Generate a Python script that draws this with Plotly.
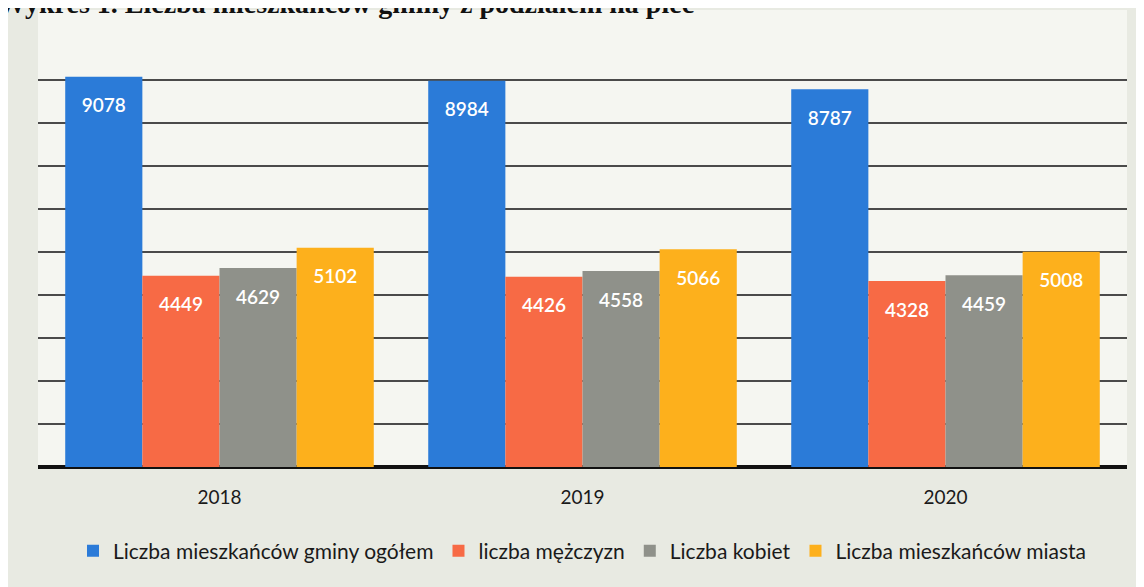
import plotly.graph_objects as go

years = ["2018", "2019", "2020"]
total = [9078, 8984, 8787]
men = [4449, 4426, 4328]
women = [4629, 4558, 4459]
town = [5102, 5066, 5008]

series = [
    ("Liczba mieszkańców gminy ogółem", total, "#2b7bd8"),
    ("liczba mężczyzn", men, "#f76a45"),
    ("Liczba kobiet", women, "#8f918a"),
    ("Liczba mieszkańców miasta", town, "#fdb01c"),
]

FONT = "Lato, 'Open Sans', sans-serif"

fig = go.Figure()
for name, vals, colour in series:
    fig.add_trace(go.Bar(
        x=years, y=vals, name=name,
        marker=dict(color=colour, line=dict(width=0)),
        text=[str(v) for v in vals],
        # small spacer line pushes the label down from the bar top
        texttemplate="<span style='font-size:8px'>&nbsp;</span><br>%{text}",
        textposition="inside",
        insidetextanchor="end",
        textangle=0,
        textfont=dict(color="white", size=19, family=FONT, weight=600),
        cliponaxis=False,
    ))

# caption of the scanned page, mostly cut off at the top
fig.add_annotation(
    text="<b>Wykres 1. Liczba mieszkańców gminy z podziałem na płeć</b>",
    xref="paper", yref="paper", x=-0.039, y=0.976,
    xanchor="left", yanchor="bottom", showarrow=False,
    font=dict(family="'Liberation Serif', 'Times New Roman', serif", size=28, color="#111"),
)

fig.update_layout(
    width=1136, height=579,
    barmode="group",
    bargap=0.15,
    bargroupgap=0,
    margin=dict(l=30, r=17, t=2, b=120),
    paper_bgcolor="#e8eae2",
    plot_bgcolor="#f5f6f1",
    font=dict(family=FONT, color="#222"),
    xaxis=dict(
        showgrid=False, zeroline=False, showline=False,
        ticks="outside", ticklen=13, tickcolor="rgba(0,0,0,0)",
        tickfont=dict(size=19, color="#1a1a1a"),
    ),
    yaxis=dict(
        range=[0, 10630], tickvals=list(range(1000, 10000, 1000)),
        showticklabels=False,
        showgrid=True, gridcolor="#4a4a4a", gridwidth=1.5,
        zeroline=True, zerolinecolor="#111", zerolinewidth=4,
        showline=False,
    ),
    legend=dict(
        orientation="h", x=0.5, xanchor="center", y=-0.184, yanchor="middle",
        font=dict(size=21, color="#1a1a1a"), bgcolor="rgba(0,0,0,0)",
        itemwidth=30,
    ),
)

fig.write_html("out.html")
